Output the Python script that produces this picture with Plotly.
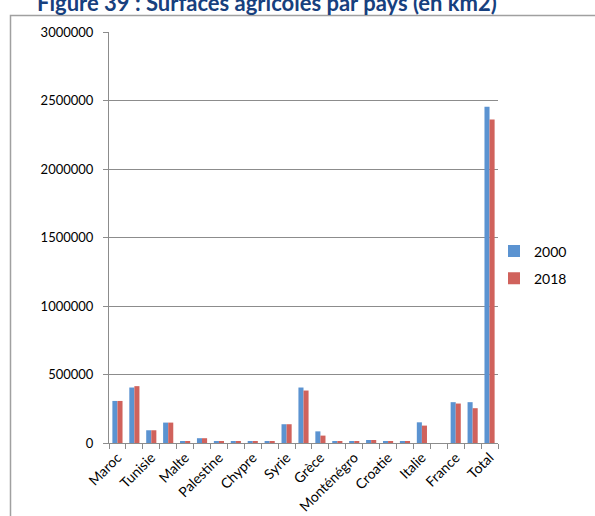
import plotly.graph_objects as go

categories = ["Maroc", "Algérie", "Tunisie", "Libye", "Malte", "Égypte", "Palestine",
              "Israël", "Chypre", "Liban", "Syrie", "Turquie", "Grèce", "Albanie",
              "Monténégro", "Bosnie-Herzégovine", "Croatie", "Slovénie", "Italie",
              "Monaco", "France", "Espagne", "Total"]
shown_labels = ["Maroc", "Tunisie", "Malte", "Palestine", "Chypre", "Syrie", "Grèce",
                "Monténégro", "Croatie", "Italie", "France", "Total"]
values_2000 = [307000, 405000, 93000, 149000, 8000, 35000, 8000, 8000, 8000, 8000,
               137000, 405000, 85000, 8000, 8000, 22000, 8000, 8000, 151000, 0,
               298000, 298000, 2454000]
values_2018 = [307000, 415000, 93000, 149000, 8000, 35000, 8000, 8000, 8000, 8000,
               137000, 383000, 54000, 8000, 8000, 22000, 8000, 8000, 127000, 0,
               288000, 254000, 2361000]
series_names = ["2000", "2018"]
y_ticks = [0, 500000, 1000000, 1500000, 2000000, 2500000, 3000000]

W, H = 595, 516
L, R, T, B = 109, 97, 32, 73
pw, ph = W - L - R, H - T - B

def px_x(x):
    return (x - L) / pw

def px_y(y):
    return (H - B - y) / ph

ticktext = [c if c in shown_labels else "" for c in categories]

fig = go.Figure()
fig.add_trace(go.Bar(x=categories, y=values_2000, name=series_names[0],
                     marker=dict(color="#5B93D1", line=dict(width=0)),
                     legendgroup="a"))
fig.add_trace(go.Bar(x=categories, y=values_2018, name=series_names[1],
                     marker=dict(color="#D0625C", line=dict(width=0)),
                     legendgroup="b"))

grey = "#8C8C8C"
fig.update_layout(
    width=W, height=H,
    margin=dict(l=L, r=R, t=T, b=B, autoexpand=False),
    paper_bgcolor="white", plot_bgcolor="white",
    barmode="group", bargap=0.4, bargroupgap=0,
    font=dict(family="Lato, Liberation Sans, sans-serif", size=13, color="#000000"),
    legend=dict(x=px_x(494), xanchor="left", y=px_y(265), yanchor="middle",
                font=dict(size=14), tracegroupgap=6, bgcolor="rgba(0,0,0,0)"),
    showlegend=True,
    xaxis=dict(type="category", tickmode="array", tickvals=categories, ticktext=ticktext,
               tickangle=-45, tickson="boundaries", ticks="outside", ticklen=5,
               tickcolor=grey, tickwidth=1, showline=True, linecolor=grey, linewidth=1,
               showgrid=False, automargin=False, tickfont=dict(size=14),
               range=[-0.5, len(categories) - 0.5]),
    yaxis=dict(range=[0, 3000000], tickmode="array", tickvals=y_ticks,
               ticktext=[str(v) for v in y_ticks], ticks="outside", ticklen=5,
               tickcolor=grey, showline=True, linecolor=grey, linewidth=1,
               showgrid=True, gridcolor=grey, gridwidth=1, zeroline=False,
               automargin=False, tickfont=dict(size=13), ticklabelstandoff=7),
    shapes=[dict(type="rect", xref="paper", yref="paper",
                 x0=px_x(10.5), x1=px_x(640), y0=px_y(15.5), y1=px_y(560),
                 line=dict(color="#A0A0A0", width=1.5), fillcolor="rgba(0,0,0,0)",
                 layer="below")],
    annotations=[dict(text="<b>Figure 39 : Surfaces agricoles par pays (en km2)</b>",
                      xref="paper", yref="paper", x=px_x(266.5), y=px_y(3),
                      xanchor="center", yanchor="middle", showarrow=False,
                      font=dict(family="Lato, Liberation Sans, sans-serif", size=22,
                                color="#17407E"))],
)

fig.write_html("out.html", config={"displayModeBar": False},
               post_script="document.body.style.margin='0';")
